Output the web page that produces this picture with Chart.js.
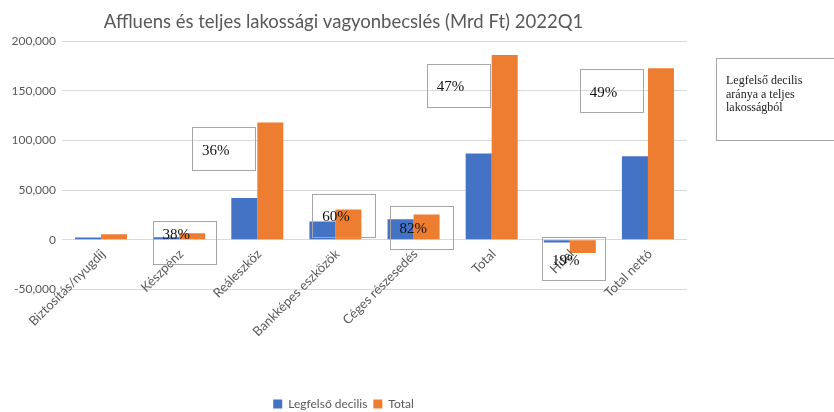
<!DOCTYPE html>
<html>
<head>
<meta charset="utf-8">
<script src="https://cdn.jsdelivr.net/npm/chart.js@4.4.0/dist/chart.umd.min.js"></script>
<style>
html,body{margin:0;padding:0;background:#ffffff;}
#wrap{width:834px;height:412px;position:relative;}
</style>
</head>
<body>
<div id="wrap"><canvas id="c"></canvas></div>
<script>
// ---- data ----
const categories = ["Biztosítás/nyugdíj", "Készpénz", "Reáleszköz", "Bankképes eszközök", "Céges részesedés", "Total", "Hitel", "Total nettó"];
const topDecile = [2300, 2500, 42000, 18300, 20700, 86700, -2600, 84000];
const totalValues = [5700, 6600, 118000, 30500, 25500, 186000, -13400, 172700];
const shareLabels = [null, "38%", "36%", "60%", "82%", "47%", "19%", "49%"];
const seriesNames = ["Legfelső decilis", "Total"];
const yMin = -50000;
const yMax = 200000;
const yStep = 50000;
const titleText = "Affluens és teljes lakossági vagyonbecslés (Mrd Ft) 2022Q1";
const noteLines = ["Legfelső decilis", "aránya a teljes", "lakosságból"];

// ---- layout of the overlay text boxes (offset from category centre in px, top anchored at a y value) ----
const shareBoxLayout = [
  null,
  {dx: -26.5, top: 19000, textDy: 14},
  {dx: -65, top: 113700, textDy: 24},
  {dx: -23, top: 45900, textDy: 23},
  {dx: -23.8, top: 34400, textDy: 23.5},
  {dx: -64.6, top: 176400, textDy: 22.5},
  {dx: -27.4, top: 2700, textDy: 23.5},
  {dx: -68, top: 171400, textDy: 23.5}
];

const GRAY = '#595959';
const PLOT_BOTTOM = 289.5;
const LEGEND_DROP = 8;

const overlay = {
  id: 'overlay',
  afterDatasetsDraw(chart) {
    const {ctx, scales: {x, y}} = chart;
    const y0 = y.getPixelForValue(0);
    ctx.save();
    // category labels, rotated, hanging from the zero line
    ctx.font = '13px Lato';
    ctx.fillStyle = GRAY;
    categories.forEach((c, i) => {
      const px = x.getPixelForValue(i);
      ctx.save();
      ctx.translate(px + 2, y0 + 12);
      ctx.rotate(-Math.PI / 4);
      ctx.textAlign = 'right';
      ctx.textBaseline = 'middle';
      ctx.fillText(c, 0, 0);
      ctx.restore();
    });
    // percentage boxes
    ctx.strokeStyle = '#a6a6a6';
    ctx.lineWidth = 1;
    ctx.font = '15px "Liberation Serif"';
    ctx.fillStyle = '#111111';
    ctx.textAlign = 'left';
    ctx.textBaseline = 'middle';
    shareLabels.forEach((lab, i) => {
      if (!lab) return;
      const L = shareBoxLayout[i];
      const left = x.getPixelForValue(i) + L.dx;
      const top = y.getPixelForValue(L.top);
      ctx.strokeRect(Math.round(left) + 0.5, Math.round(top) + 0.5, 63, 43);
      ctx.fillText(lab, left + 9.7, top + L.textDy);
    });
    ctx.restore();
  },
  afterDraw(chart) {
    const {ctx, chartArea} = chart;
    ctx.save();
    const left = chartArea.right + 29;
    const top = chartArea.top + 17;
    ctx.strokeStyle = '#a6a6a6';
    ctx.lineWidth = 1;
    ctx.strokeRect(Math.round(left) + 0.5, Math.round(top) + 0.5, 140, 82);
    ctx.font = '12px "Liberation Serif"';
    ctx.fillStyle = '#222222';
    ctx.textAlign = 'left';
    ctx.textBaseline = 'middle';
    noteLines.forEach((t, k) => ctx.fillText(t, left + 10, top + 22.5 + k * 13.9));
    ctx.restore();
  }
};

new Chart(document.getElementById('c'), {
  type: 'bar',
  data: {
    labels: categories,
    datasets: [
      {label: seriesNames[0], data: topDecile, backgroundColor: '#4472C4', categoryPercentage: 0.666, barPercentage: 1.0},
      {label: seriesNames[1], data: totalValues, backgroundColor: '#ED7D31', categoryPercentage: 0.666, barPercentage: 1.0}
    ]
  },
  options: {
    responsive: true,
    maintainAspectRatio: false,
    animation: false,
    layout: {padding: {left: 0, right: 147, top: 0, bottom: -LEGEND_DROP}},
    plugins: {
      title: {
        display: true,
        text: titleText,
        color: GRAY,
        font: {family: 'Lato', size: 18.5, weight: 'normal'},
        padding: {top: 10.9, bottom: 7.9}
      },
      legend: {
        position: 'bottom',
        labels: {
          color: GRAY,
          font: {family: 'Lato', size: 12},
          boxWidth: 9,
          boxHeight: 9,
          padding: 6
        }
      },
      tooltip: {enabled: false}
    },
    scales: {
      x: {
        ticks: {display: false},
        grid: {display: false},
        border: {display: false},
        afterFit(scale) {
          const lg = scale.chart.legend;
          const lh = lg ? lg.height : 30;
          scale.height = Math.max(0, 412 + LEGEND_DROP - PLOT_BOTTOM - lh);
        }
      },
      y: {
        min: yMin,
        max: yMax,
        ticks: {
          stepSize: yStep,
          color: GRAY,
          font: {family: 'Lato', size: 12},
          padding: 6
        },
        grid: {color: '#d9d9d9', lineWidth: 1, drawTicks: false},
        border: {display: false},
        afterFit(scale) { scale.width = 62; }
      }
    }
  },
  plugins: [overlay]
});
</script>
</body>
</html>
